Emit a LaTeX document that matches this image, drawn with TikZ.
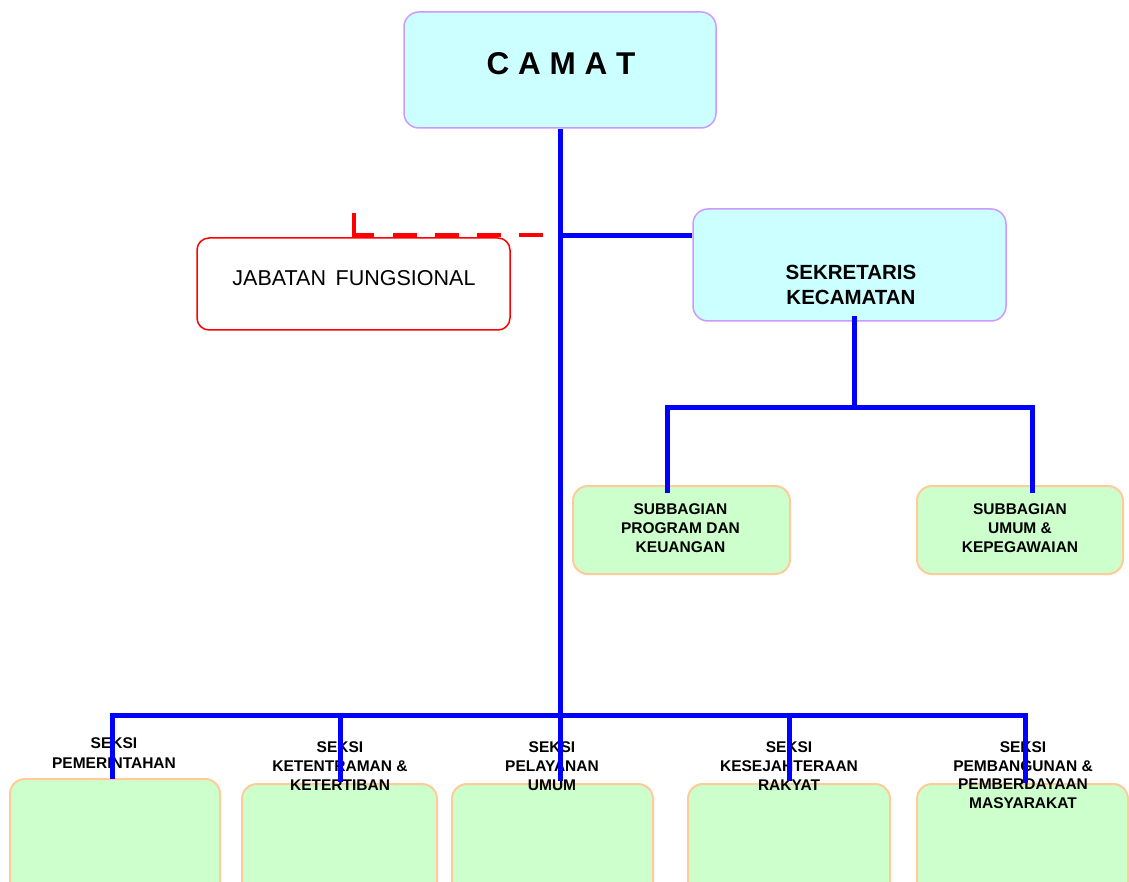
\documentclass[tikz,border=0pt]{standalone}
\usepackage{fontspec}
\setmainfont{Liberation Sans}
\usetikzlibrary{calc}
\definecolor{camfill}{HTML}{CCFFFF}
\definecolor{camdraw}{HTML}{CC99FF}
\definecolor{grfill}{HTML}{CCFFCC}
\definecolor{grdraw}{HTML}{FFCC99}
\definecolor{bl}{HTML}{0000FF}
\definecolor{rd}{HTML}{FF0000}
\begin{document}
\begin{tikzpicture}[x=1pt,y=-1pt,
  box/.style={rectangle, rounded corners=15pt, inner sep=0pt},
  cyanbox/.style={box, fill=camfill, draw=camdraw, line width=1.5pt},
  greenbox/.style={box, fill=grfill, draw=grdraw, line width=2pt},
  redbox/.style={box, draw=rd, line width=1.5pt, fill=white, rounded corners=12pt},
  bf/.style={font=\bfseries\fontsize{15.5}{19}\selectfont, align=center, inner sep=0pt},
  conn/.style={draw=bl, line width=5pt},
  dashconn/.style={draw=rd, line width=4pt, dash pattern=on 42pt off 19pt on 24pt off 18pt on 24pt off 18pt on 24pt off 18pt on 24pt}]
\useasboundingbox (0,0) rectangle (1129,882);
\clip (0,0) rectangle (1129,882);
\fill[white] (0,0) rectangle (1129,882);

% boxes
\node[cyanbox, minimum width=312pt, minimum height=116pt] (camat) at (560,70) {};
\node[cyanbox, minimum width=313pt, minimum height=112pt] (sek) at (849.5,265) {};
\node[redbox, minimum width=313pt, minimum height=92pt] (jab) at (353.5,284) {};
\node[greenbox, minimum width=217pt, minimum height=88pt] (sub1) at (681.5,530) {};
\node[greenbox, minimum width=206pt, minimum height=88pt] (sub2) at (1020,530) {};
\node[greenbox, minimum width=210pt, minimum height=130pt] (b1) at (115,844) {};
\node[greenbox, minimum width=195pt, minimum height=130pt] (b2) at (339.5,849) {};
\node[greenbox, minimum width=201pt, minimum height=130pt] (b3) at (552.5,849) {};
\node[greenbox, minimum width=202pt, minimum height=130pt] (b4) at (789,849) {};
\node[greenbox, minimum width=211pt, minimum height=130pt] (b5) at (1022.5,849) {};

% texts
\node[font=\bfseries\fontsize{31.5}{36}\selectfont, inner sep=0pt] (camatT) at (561,64) {C A M A T};
\node[font=\bfseries\fontsize{20.5}{24.5}\selectfont, align=center, inner sep=0pt] (sekT) at (851,285) {SEKRETARIS\\KECAMATAN};
\node[font=\fontsize{21.5}{26}\selectfont, inner sep=0pt] (jabT) at (354,278) {JABATAN\hspace{0.45em}FUNGSIONAL};
\node[bf] (sub1T) at (680.5,528) {SUBBAGIAN\\PROGRAM DAN\\KEUANGAN};
\node[bf] (sub2T) at (1020,528) {SUBBAGIAN\\UMUM \&\\KEPEGAWAIAN};
\node[bf, font=\bfseries\fontsize{15.5}{20}\selectfont] (l1) at (114,753) {SEKSI\\PEMERINTAHAN};
\node[bf] (l2) at (340,766) {SEKSI\\KETENTRAMAN \&\\KETERTIBAN};
\node[bf] (l3) at (552,766) {SEKSI\\PELAYANAN\\UMUM};
\node[bf] (l4) at (789,766) {SEKSI\\KESEJAHTERAAN\\RAKYAT};
\node[bf, font=\bfseries\fontsize{15.5}{18.5}\selectfont] (l5) at (1023,775) {SEKSI\\PEMBANGUNAN \&\\PEMBERDAYAAN\\MASYARAKAT};

% junction coordinates
\coordinate (j1) at (560,236);
\coordinate (bus) at (560,715);
\coordinate (d1) at (112.5,779);
\coordinate (d2) at (340,782);
\coordinate (d3) at (560,781);
\coordinate (d4) at (789,781);
\coordinate (d5) at (1025.5,783);
\coordinate (s0) at (854,316);
\coordinate (sbus) at (854,407.5);
\coordinate (t1) at (667,493);
\coordinate (t2) at (1032,493);
\coordinate (jfTop) at (353.5,213);
\coordinate (jfEnd) at (543,235);

% connectors
\draw[dashconn] (jfTop) |- (jfEnd);
\draw[conn] (camat.south) -- (d3);
\draw[conn] (j1) -- (j1 -| sek.west);
\draw[conn] (s0) -- (sbus);
\draw[conn] (t1) -- (t1 |- sbus) -- (t2 |- sbus) -- (t2);
\draw[conn] (d1) -- (d1 |- bus) -- (d5 |- bus) -- (d5);
\draw[conn] (d2 |- bus) -- (d2);
\draw[conn] (d4 |- bus) -- (d4);
\end{tikzpicture}
\end{document}
